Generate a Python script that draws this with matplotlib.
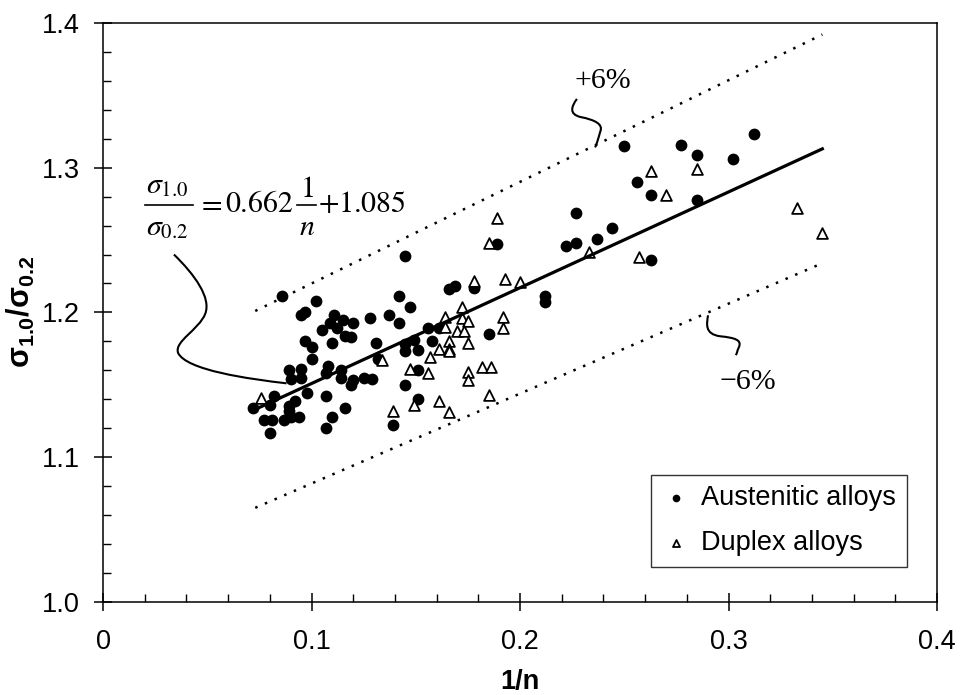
import matplotlib
matplotlib.use('Agg')
import matplotlib.pyplot as plt
from matplotlib.path import Path
from matplotlib.patches import PathPatch
from matplotlib.ticker import MultipleLocator

# Data
aus_x = [0.086, 0.102, 0.097, 0.095, 0.111, 0.115, 0.109, 0.105, 0.112, 0.120,
         0.128, 0.137, 0.142, 0.147, 0.142, 0.116, 0.119, 0.097, 0.100, 0.110,
         0.131, 0.100, 0.089, 0.090, 0.095, 0.095, 0.108, 0.107, 0.114, 0.114,
         0.119, 0.120, 0.125, 0.129, 0.145, 0.145, 0.149, 0.151, 0.151, 0.156,
         0.145, 0.082, 0.072, 0.080, 0.098, 0.107, 0.092, 0.089, 0.089, 0.094,
         0.087, 0.090, 0.077, 0.081, 0.080, 0.116, 0.110, 0.107, 0.139, 0.151,
         0.132, 0.145, 0.161, 0.158,
         0.166, 0.169, 0.178, 0.185, 0.189, 0.212, 0.212, 0.222, 0.227, 0.227,
         0.237, 0.244, 0.263, 0.256, 0.263, 0.285, 0.250, 0.277, 0.285, 0.302, 0.312]
aus_y = [1.211, 1.208, 1.200, 1.198, 1.198, 1.195, 1.193, 1.188, 1.189, 1.193,
         1.196, 1.198, 1.211, 1.204, 1.193, 1.184, 1.183, 1.180, 1.176, 1.179,
         1.179, 1.168, 1.160, 1.154, 1.161, 1.155, 1.163, 1.158, 1.160, 1.155,
         1.150, 1.153, 1.155, 1.154, 1.173, 1.150, 1.181, 1.174, 1.160, 1.189,
         1.239, 1.142, 1.134, 1.136, 1.144, 1.142, 1.139, 1.135, 1.132, 1.128,
         1.126, 1.128, 1.126, 1.126, 1.117, 1.134, 1.128, 1.120, 1.122, 1.140,
         1.168, 1.178, 1.189, 1.180,
         1.216, 1.218, 1.217, 1.185, 1.247, 1.211, 1.207, 1.246, 1.248, 1.269,
         1.251, 1.258, 1.236, 1.290, 1.281, 1.278, 1.315, 1.316, 1.309, 1.306, 1.323]

dup_x = [0.076, 0.134, 0.147, 0.139, 0.149, 0.185, 0.189, 0.178, 0.193, 0.200,
         0.172, 0.164, 0.172, 0.175, 0.164, 0.192, 0.192, 0.170, 0.173, 0.166,
         0.175, 0.161, 0.166, 0.166, 0.157, 0.156, 0.175, 0.175, 0.182, 0.186,
         0.185, 0.161, 0.166, 0.263, 0.285, 0.270, 0.233, 0.257, 0.333, 0.345]
dup_y = [1.141, 1.167, 1.161, 1.132, 1.136, 1.248, 1.265, 1.222, 1.223, 1.221,
         1.204, 1.197, 1.196, 1.194, 1.190, 1.197, 1.189, 1.187, 1.187, 1.180,
         1.179, 1.175, 1.175, 1.173, 1.169, 1.158, 1.159, 1.153, 1.162, 1.162,
         1.143, 1.139, 1.131, 1.298, 1.299, 1.281, 1.242, 1.238, 1.272, 1.255]

# fit line and +/-6% bands (end points)
fit_x = [0.073, 0.345]
fit_y = [1.133, 1.313]
upper_y = [1.201, 1.392]
lower_y = [1.065, 1.234]

x_ticks = [0, 0.1, 0.2, 0.3, 0.4]
x_ticklabels = ['0', '0.1', '0.2', '0.3', '0.4']
y_ticks = [1.0, 1.1, 1.2, 1.3, 1.4]
y_ticklabels = ['1.0', '1.1', '1.2', '1.3', '1.4']

plt.rcParams['font.family'] = ['Liberation Sans', 'DejaVu Sans']
plt.rcParams['mathtext.fontset'] = 'custom'
plt.rcParams['mathtext.rm'] = 'Liberation Sans'
plt.rcParams['mathtext.bf'] = 'Liberation Sans:bold'

fig = plt.figure(figsize=(9.63, 6.95), dpi=100)
ax = fig.add_axes([0.107, 0.134, 0.866, 0.833])

ax.scatter(aus_x, aus_y, s=72, marker='o', color='black', linewidths=0,
           label='Austenitic alloys', zorder=3)
ax.scatter(dup_x, dup_y, s=60, marker='^', facecolors='white', edgecolors='black',
           linewidths=1.3, label='Duplex alloys', zorder=4)

ax.plot(fit_x, fit_y, color='black', lw=2.3, zorder=5)
ax.plot(fit_x, upper_y, color='black', lw=1.8, linestyle=(0, (1.0, 3.2)))
ax.plot(fit_x, lower_y, color='black', lw=1.8, linestyle=(0, (1.0, 3.2)))

ax.set_xlim(0, 0.4)
ax.set_ylim(1.0, 1.4)
ax.set_xticks(x_ticks)
ax.set_xticklabels(x_ticklabels)
ax.set_yticks(y_ticks)
ax.set_yticklabels(y_ticklabels)
ax.xaxis.set_minor_locator(MultipleLocator(0.02))
ax.yaxis.set_minor_locator(MultipleLocator(0.02))
ax.tick_params(which='major', direction='inout', length=13.5, width=1.1,
               labelsize=19.5)
ax.tick_params(which='minor', direction='in', length=5.5, width=1.0)
ax.tick_params(axis='x', which='major', pad=13)
ax.tick_params(axis='y', which='major', pad=10)
for sp in ax.spines.values():
    sp.set_linewidth(1.1)

ax.set_xlabel('1/n', fontsize=19.5, fontweight='bold', labelpad=10)
ax.set_ylabel(r'$\mathbf{\sigma_{1.0}/\sigma_{0.2}}$', fontsize=22, labelpad=3)

# equation built from pieces: sigma_1.0 / sigma_0.2 = 0.662 (1/n) + 1.085
eq_kw = dict(math_fontfamily='stix', fontsize=21.5, va='baseline')
ax.text(0.0307, 1.2826, r'$\sigma_{1.0}$', ha='center', **eq_kw)
ax.text(0.0307, 1.2535, r'$\sigma_{0.2}$', ha='center', **eq_kw)
ax.plot([0.0203, 0.0432], [1.2743, 1.2743], color='black', lw=1.2)
ax.text(0.0513, 1.2694, r'$=$', ha='center', **eq_kw)
ax.text(0.0583, 1.2694, r'$0.662$', ha='left', **eq_kw)
ax.text(0.0977, 1.2800, r'$1$', ha='center', **eq_kw)
ax.text(0.0977, 1.2535, r'$n$', ha='center', **eq_kw)
ax.plot([0.0930, 0.1020], [1.2743, 1.2743], color='black', lw=1.2)
ax.text(0.1031, 1.2694, r'$+1.085$', ha='left', **eq_kw)

eq_lead = Path([(0.034, 1.240), (0.044, 1.226), (0.052, 1.210), (0.049, 1.199),
                (0.046, 1.188), (0.034, 1.180), (0.036, 1.172),
                (0.040, 1.160), (0.070, 1.154), (0.088, 1.151)],
               [Path.MOVETO] + [Path.CURVE4] * 9)
ax.add_patch(PathPatch(eq_lead, fill=False, lw=1.5, color='black'))

# +6% label and leader
ax.text(0.2395, 1.360, '+6%', family='Liberation Serif', fontsize=21.5,
        ha='center', va='center')
up_lead = Path([(0.2273, 1.3475), (0.2245, 1.342), (0.2235, 1.337), (0.229, 1.335),
                (0.236, 1.333), (0.240, 1.330), (0.2385, 1.325),
                (0.2375, 1.320), (0.237, 1.317), (0.236, 1.314)],
               [Path.MOVETO] + [Path.CURVE4] * 9)
ax.add_patch(PathPatch(up_lead, fill=False, lw=1.5, color='black'))

# -6% label and leader
ax.text(0.3095, 1.152, '\u22126%', family='Liberation Serif', fontsize=21.5,
        ha='center', va='center')
lo_lead = Path([(0.2902, 1.198), (0.2895, 1.192), (0.2885, 1.185), (0.296, 1.1835),
                (0.303, 1.1825), (0.3065, 1.181), (0.305, 1.176),
                (0.304, 1.173), (0.3042, 1.172), (0.3035, 1.1705)],
               [Path.MOVETO] + [Path.CURVE4] * 9)
ax.add_patch(PathPatch(lo_lead, fill=False, lw=1.5, color='black'))

leg = ax.legend(loc='lower right', bbox_to_anchor=(0.964, 0.060), borderaxespad=0,
                fontsize=19.5, markerscale=0.65, handlelength=1.0, handletextpad=0.45,
                labelspacing=0.7, borderpad=0.4, fancybox=False, frameon=True)
leg.get_frame().set_edgecolor('black')
leg.get_frame().set_linewidth(1.0)

fig.savefig('out.png', dpi=100)
